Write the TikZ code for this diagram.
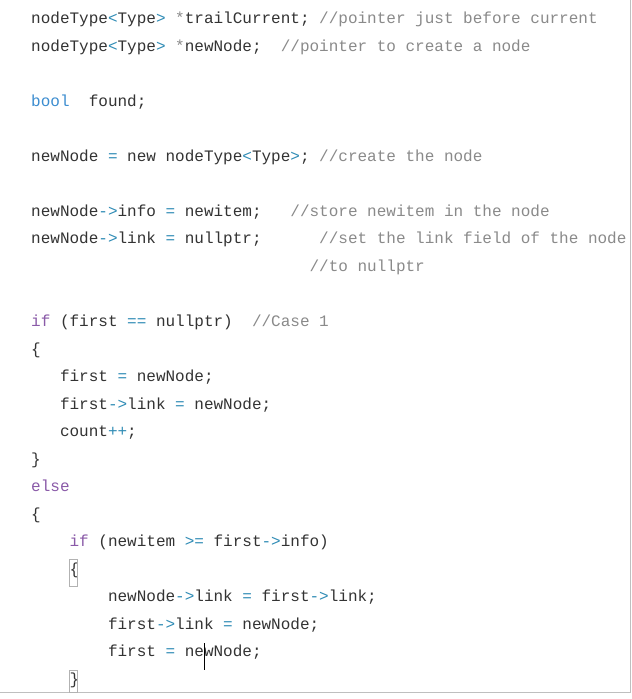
\documentclass[tikz,border=0pt]{standalone}
\usepackage{fontspec}
\setmonofont{Liberation Mono}
\definecolor{tx}{HTML}{333333}
\definecolor{cm}{HTML}{8A8A8A}
\definecolor{kb}{HTML}{3C8DD0}
\definecolor{kp}{HTML}{8A5AA8}
\definecolor{op}{HTML}{2E8BB5}
\newcommand{\cmtx}[1]{\textcolor{cm}{#1}}
\newcommand{\kwb}[1]{\textcolor{kb}{#1}}
\newcommand{\kwp}[1]{\textcolor{kp}{#1}}
\newcommand{\opx}[1]{\textcolor{op}{#1}}
\tikzset{codeline/.style={anchor=base west,inner sep=0pt,text=tx,font=\ttfamily\fontsize{16}{16}\selectfont}}
\newcommand{\mycodeln}[4][]{\node[codeline] (#1) at ({31+9.6*#2},{#3+5}) {#4};}
\begin{document}
\begin{tikzpicture}[x=1pt,y=-1pt]
\useasboundingbox (0,0) rectangle (632,699);
\fill[white] (0,0) rectangle (632,699);
\draw[gray!50] (630,0) -- (630,692) -- (0,692);
\mycodeln[l1]{0}{18}{nodeType\opx{<}Type\opx{>} \cmtx{*}trailCurrent; \cmtx{//pointer just before current}}
\mycodeln[l2]{0}{46}{nodeType\opx{<}Type\opx{>} \cmtx{*}newNode;}
\mycodeln[l2c]{26}{46}{\cmtx{//pointer to create a node}}
\mycodeln[l3]{0}{101}{\kwb{bool}}
\mycodeln[l3b]{6}{101}{found;}
\mycodeln[l4]{0}{156}{newNode \opx{=} new nodeType\opx{<}Type\opx{>}; \cmtx{//create the node}}
\mycodeln[l5]{0}{211}{newNode\opx{->}info \opx{=} newitem;}
\mycodeln[l5c]{27}{211}{\cmtx{//store newitem in the node}}
\mycodeln[l6]{0}{238}{newNode\opx{->}link \opx{=} nullptr;}
\mycodeln[l6c]{30}{238}{\cmtx{//set the link field of the node}}
\mycodeln[l7]{29}{266}{\cmtx{//to nullptr}}
\mycodeln[l8]{0}{321}{\kwp{if} (first \opx{==} nullptr)}
\mycodeln[l8c]{23}{321}{\cmtx{//Case 1}}
\mycodeln[l9]{0}{349}{\{}
\mycodeln[l10]{3}{376}{first \opx{=} newNode;}
\mycodeln[l11]{3}{404}{first\opx{->}link \opx{=} newNode;}
\mycodeln[l12]{3}{431}{count\opx{++};}
\mycodeln[l13]{0}{459}{\}}
\mycodeln[l14]{0}{486}{\kwp{else}}
\mycodeln[l15]{0}{514}{\{}
\mycodeln[l16]{4}{541}{\kwp{if} (newitem \opx{>=} first\opx{->}info)}
\mycodeln[l17]{4}{569}{\{}
\mycodeln[l18]{8}{596}{newNode\opx{->}link \opx{=} first\opx{->}link;}
\mycodeln[l19]{8}{624}{first\opx{->}link \opx{=} newNode;}
\mycodeln[l20]{8}{651}{first \opx{=} newNode;}
\mycodeln[l21]{4}{679}{\}}
\draw[gray!60] (69,559) rectangle (77,586);
\draw[gray!60] (69,670) rectangle (77,692);
\draw[black] (204,643) -- (204,670);
\end{tikzpicture}
\end{document}
